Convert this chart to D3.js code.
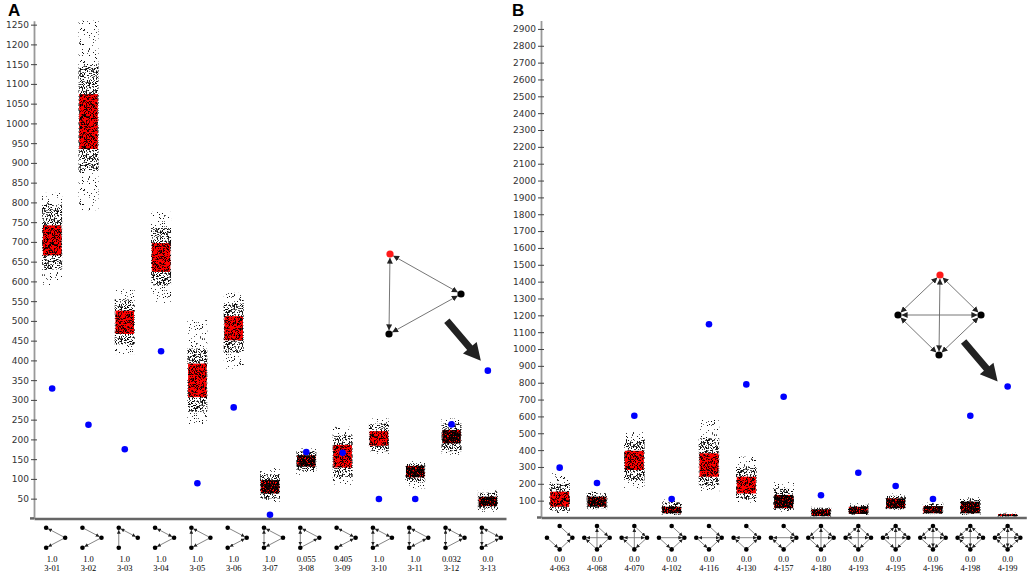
<!DOCTYPE html>
<html>
<head>
<meta charset="utf-8">
<script src="https://cdn.jsdelivr.net/npm/d3@7"></script>
<style>
  body { margin: 0; background: #fff; }
  svg { display: block; }
  .tick text { font-family: "DejaVu Sans", sans-serif; font-size: 9px; fill: #333; }
  .lab { font-family: "Liberation Serif", serif; font-size: 8.5px; fill: #000; text-anchor: middle; }
  .panel { font-family: "Liberation Sans", sans-serif; font-size: 17px; font-weight: bold; fill: #000; }
</style>
</head>
<body>
<div id="chart"></div>
<script>
// ---- panel A : 3-node motifs ----
var motifsA = ['3-01', '3-02', '3-03', '3-04', '3-05', '3-06', '3-07', '3-08', '3-09', '3-10', '3-11', '3-12', '3-13']
var pvalA = ['1.0', '1.0', '1.0', '1.0', '1.0', '1.0', '1.0', '0.055', '0.405', '1.0', '1.0', '0.032', '0.0']
var realA = [329, 237, 175, 423, 89, 281, 9, 168, 166, 49, 49, 238, 374]
var boxLoA = [666, 935, 467, 624, 307, 451, 63, 131, 129, 184, 104, 190, 31]
var boxHiA = [742, 1074, 526, 697, 392, 512, 97, 160, 186, 221, 133, 224, 55]
var denseLoA = [630, 880, 440, 590, 270, 420, 50, 120, 105, 170, 92, 170, 25]
var denseHiA = [795, 1150, 555, 735, 430, 545, 112, 170, 210, 240, 140, 240, 65]
var cloudLoA = [591, 780, 416, 545, 239, 379, 42, 110, 85, 163, 76, 161, 17]
var cloudHiA = [824, 1260, 580, 776, 502, 571, 127, 177, 232, 253, 150, 253, 72]
var ticksA = d3.range(50, 1251, 50)
// edges [source, target, mutual] ; nodes 0 top-left, 1 right, 2 bottom-left
var edgesA = [
    [[1, 0], [1, 2]],
    [[0, 1], [1, 2]],
    [[0, 1, 1], [2, 0]],
    [[0, 1, 1], [1, 2]],
    [[2, 0], [1, 0], [1, 2]],
    [[0, 1], [1, 2, 1]],
    [[0, 2, 1], [1, 0], [1, 2]],
    [[0, 2, 1], [1, 0], [2, 1]],
    [[0, 1, 1], [1, 2, 1]],
    [[0, 2, 1], [0, 1, 1], [1, 2]],
    [[0, 2, 1], [1, 0], [1, 2, 1]],
    [[0, 2, 1], [0, 1, 1], [2, 1]],
    [[0, 1, 1], [1, 2, 1], [0, 2, 1]]
]

// ---- panel B : 4-node motifs ----
var motifsB = ['4-063', '4-068', '4-070', '4-102', '4-116', '4-130', '4-157', '4-180', '4-193', '4-195', '4-196', '4-198', '4-199']
var pvalB = ['0.0', '0.0', '0.0', '0.0', '0.0', '0.0', '0.0', '0.0', '0.0', '0.0', '0.0', '0.0', '0.0']
var realB = [296, 205, 604, 110, 1147, 790, 717, 132, 266, 187, 110, 604, 778]
var boxLoB = [64, 64, 282, 25, 242, 143, 55, 9, 21, 55, 25, 25, 8]
var boxHiB = [153, 124, 396, 64, 381, 242, 134, 49, 64, 114, 68, 94, 20]
var denseLoB = [40, 55, 220, 18, 190, 110, 45, 7, 17, 50, 22, 20, 6]
var denseHiB = [200, 145, 460, 90, 470, 300, 170, 58, 75, 130, 80, 110, 24]
var cloudLoB = [25, 49, 173, 15, 153, 88, 35, 5, 15, 45, 20, 15, 5]
var cloudHiB = [262, 153, 509, 107, 579, 361, 213, 64, 84, 143, 88, 120, 28]
var ticksB = d3.range(100, 2901, 100)
// nodes 0 top, 1 left, 2 right, 3 bottom
var edgesB = [
    [[0, 2], [1, 3], [3, 2]],
    [[3, 0], [2, 1], [0, 2], [2, 3], [3, 1]],
    [[3, 0], [1, 2, 1], [0, 2], [2, 3], [3, 1]],
    [[0, 2], [1, 2], [1, 3], [3, 2]],
    [[0, 2], [1, 2, 1], [1, 3], [3, 2]],
    [[0, 2], [1, 2, 1], [3, 1], [3, 2]],
    [[0, 2], [1, 2, 1], [1, 3, 1], [3, 2]],
    [[0, 1], [0, 2], [1, 2, 1], [3, 0], [1, 3], [2, 3]],
    [[0, 1, 1], [0, 2], [1, 2, 1], [3, 0], [1, 3], [2, 3]],
    [[0, 1, 1], [0, 2, 1], [1, 2, 1], [3, 0], [1, 3], [2, 3]],
    [[0, 1, 1], [0, 2, 1], [1, 2, 1], [0, 3, 1], [1, 3], [2, 3]],
    [[0, 1, 1], [0, 2, 1], [1, 2, 1], [0, 3, 1], [1, 3, 1], [2, 3]],
    [[0, 1, 1], [0, 2, 1], [1, 2, 1], [0, 3, 1], [1, 3, 1], [2, 3, 1]]
]

var width = 1028, height = 572

var svg = d3.select('#chart').append('svg')
    .attr('width', width)
    .attr('height', height)
var defs = svg.append('defs')

// deterministic speckle texture for the sample clouds
function hash(i) {
    var v = Math.sin(i * 12.9898 + 78.233) * 43758.5453
    return v - Math.floor(v)
}
function speckle(id, n, bg, seed) {
    var size = 32
    var p = defs.append('pattern').attr('id', id)
        .attr('patternUnits', 'userSpaceOnUse')
        .attr('width', size).attr('height', size)
    if (bg) p.append('rect').attr('width', size).attr('height', size).attr('fill', bg)
    for (var i = 0; i < n; i++) {
        var k = seed + i * 3
        p.append('rect')
            .attr('x', Math.floor(hash(k + 1) * size))
            .attr('y', Math.floor(hash(k + 2) * size))
            .attr('width', 1).attr('height', 1)
            .attr('fill', '#000')
            .attr('fill-opacity', 0.45 + 0.55 * hash(k + 3))
    }
}
speckle('sparse', 90, null, 11)
speckle('dense', 480, null, 5000)
speckle('boxLight', 540, '#f00', 9000)
speckle('boxHeavy', 2200, '#f00', 13000)

function marker(id, size) {
    defs.append('marker').attr('id', id)
        .attr('viewBox', '0 0 10 10')
        .attr('refX', 10).attr('refY', 5)
        .attr('markerUnits', 'userSpaceOnUse')
        .attr('markerWidth', size).attr('markerHeight', size)
        .attr('orient', 'auto-start-reverse')
        .append('path').attr('d', 'M0,0 L10,5 L0,10 z').attr('fill', '#222')
}
marker('arrS', 3.8)
marker('arrL', 6)

function drawEdges(g, nodes, edges, r, mk, stroke) {
    edges.forEach(function (e) {
        var a = nodes[e[0]], b = nodes[e[1]]
        var dx = b[0] - a[0], dy = b[1] - a[1], len = Math.sqrt(dx * dx + dy * dy)
        var ux = dx / len, uy = dy / len
        var l = g.append('line')
            .attr('x1', a[0] + ux * r).attr('y1', a[1] + uy * r)
            .attr('x2', b[0] - ux * r).attr('y2', b[1] - uy * r)
            .attr('stroke', stroke).attr('stroke-width', 0.9)
            .attr('marker-end', `url(#${mk})`)
        if (e[2]) l.attr('marker-start', `url(#${mk})`)
    })
}

function bigArrow(g, sx, sy, tx, ty) {
    var dx = tx - sx, dy = ty - sy, len = Math.sqrt(dx * dx + dy * dy)
    var ux = dx / len, uy = dy / len, nx = -uy, ny = ux
    var head = 17, hw = 9, sw = 3.5
    var bx = tx - ux * head, by = ty - uy * head
    var pts = [
        [sx + nx * sw, sy + ny * sw], [bx + nx * sw, by + ny * sw], [bx + nx * hw, by + ny * hw],
        [tx, ty],
        [bx - nx * hw, by - ny * hw], [bx - nx * sw, by - ny * sw], [sx - nx * sw, sy - ny * sw]
    ]
    g.append('polygon').attr('points', pts.map(p => p.join(',')).join(' ')).attr('fill', '#222')
}

function panel(cfg) {
    var x = d3.scaleBand().domain(cfg.motifs).range(cfg.xr)
    var y = d3.scaleLinear().domain(cfg.yd).range(cfg.yr)
    var bw = x.bandwidth()
    var g = svg.append('g')

    var rows = cfg.motifs.map(function (m, i) {
        return {
            m: m, p: cfg.pval[i], real: cfg.real[i],
            bLo: cfg.boxLo[i], bHi: cfg.boxHi[i],
            dLo: cfg.denseLo[i], dHi: cfg.denseHi[i],
            cLo: cfg.cloudLo[i], cHi: cfg.cloudHi[i],
            edges: cfg.edges[i]
        }
    })

    var cols = g.selectAll('g.col').data(rows).enter().append('g').attr('class', 'col')
    var cw = bw * 0.55, boxw = bw * 0.51

    cols.append('rect')
        .attr('x', d => x(d.m) + bw / 2 - cw / 2).attr('width', cw)
        .attr('y', d => y(d.cHi)).attr('height', d => y(d.cLo) - y(d.cHi))
        .attr('fill', 'url(#sparse)')
    cols.append('rect')
        .attr('x', d => x(d.m) + bw / 2 - cw / 2).attr('width', cw)
        .attr('y', d => y(d.dHi)).attr('height', d => y(d.dLo) - y(d.dHi))
        .attr('fill', 'url(#dense)')
    cols.append('rect')
        .attr('x', d => x(d.m) + bw / 2 - boxw / 2).attr('width', boxw)
        .attr('y', d => y(d.bHi)).attr('height', d => y(d.bLo) - y(d.bHi))
        .attr('fill', d => (y(d.bLo) - y(d.bHi)) < 14 ? 'url(#boxHeavy)' : 'url(#boxLight)')

    cols.append('circle')
        .attr('cx', d => x(d.m) + bw / 2)
        .attr('cy', d => y(d.real))
        .attr('r', 3.3)
        .attr('fill', '#0000ff')

    // y axis
    var axisLeft = d3.axisLeft(y).tickValues(cfg.ticks).tickFormat(d3.format('d'))
        .tickSize(3).tickSizeOuter(0).tickPadding(2)
    var ya = svg.append('g')
        .attr('transform', `translate(${cfg.xr[0]}, 0)`)
        .call(axisLeft)
    ya.select('.domain').attr('stroke', '#999').attr('stroke-width', 1.8)
    ya.selectAll('.tick line').attr('x1', -3).attr('x2', 3).attr('stroke', '#444')

    // x axis line
    var axisBottom = d3.axisBottom(x).tickSize(0).tickSizeOuter(0).tickFormat('')
    var xa = svg.append('g')
        .attr('transform', `translate(0, ${y(0)})`)
        .call(axisBottom)
    xa.select('.domain').attr('stroke', '#666').attr('stroke-width', 2.5)
    xa.append('line').attr('x1', cfg.xr[0] - 4).attr('x2', cfg.xr[0]).attr('stroke', '#666').attr('stroke-width', 2.5)

    // labels and motif icons
    var lab = svg.append('g').selectAll('g').data(rows).enter().append('g')
        .attr('transform', d => `translate(${x(d.m) + bw / 2}, 0)`)
    lab.append('text').attr('class', 'lab').attr('y', 562).text(d => d.p)
    lab.append('text').attr('class', 'lab').attr('y', 570.5).text(d => d.m)
    lab.each(function (d) {
        var ic = d3.select(this).append('g').attr('transform', 'translate(0, 537.7)')
        drawEdges(ic, cfg.iconNodes, d.edges, 2.2, 'arrS', '#777')
        ic.selectAll('circle').data(cfg.iconNodes).enter().append('circle')
            .attr('cx', n => n[0]).attr('cy', n => n[1]).attr('r', 2.3).attr('fill', '#000')
    })

    // inset network + arrow pointing at the last observed value
    var ins = svg.append('g')
    drawEdges(ins, cfg.inset, cfg.insetEdges, 3.6, 'arrL', '#666')
    ins.selectAll('circle').data(cfg.inset).enter().append('circle')
        .attr('cx', n => n[0]).attr('cy', n => n[1]).attr('r', 3.6)
        .attr('fill', (n, i) => i === 0 ? '#ff1a1a' : '#000')
    var last = rows[rows.length - 1]
    var tx = x(last.m) + bw / 2 - cfg.arrowOff[0], ty = y(last.real) - cfg.arrowOff[1]
    bigArrow(ins, tx - 34, ty - 40, tx, ty)

    svg.append('text').attr('class', 'panel').attr('x', cfg.label[0]).attr('y', cfg.label[1]).text(cfg.name)
}

panel({
    name: 'A', label: [8, 15.5],
    motifs: motifsA, pval: pvalA, real: realA,
    boxLo: boxLoA, boxHi: boxHiA, denseLo: denseLoA, denseHi: denseHiA, cloudLo: cloudLoA, cloudHi: cloudHiA,
    edges: edgesA, ticks: ticksA,
    xr: [34, 506], yd: [0, 1260], yr: [518.4, 20.7],
    iconNodes: [[-6, -10], [13, 0], [-6, 10]],
    inset: [[390, 254], [461, 294], [389, 334]],
    insetEdges: [[0, 1, 1], [1, 2, 1], [0, 2, 1]],
    arrowOff: [7, 10]
})

panel({
    name: 'B', label: [512, 16],
    motifs: motifsB, pval: pvalB, real: realB,
    boxLo: boxLoB, boxHi: boxHiB, denseLo: denseLoB, denseHi: denseHiB, cloudLo: cloudLoB, cloudHi: cloudHiB,
    edges: edgesB, ticks: ticksB,
    xr: [541, 1026.3], yd: [0, 2950], yr: [517.5, 20.5],
    iconNodes: [[0, -11.7], [-12.7, 0], [12.7, 0], [0, 11.7]],
    inset: [[940, 275], [898, 315], [981, 315], [939, 355]],
    insetEdges: [[0, 1, 1], [0, 2, 1], [1, 2, 1], [0, 3, 1], [1, 3, 1], [2, 3, 1]],
    arrowOff: [10, 5]
})
</script>
</body>
</html>
